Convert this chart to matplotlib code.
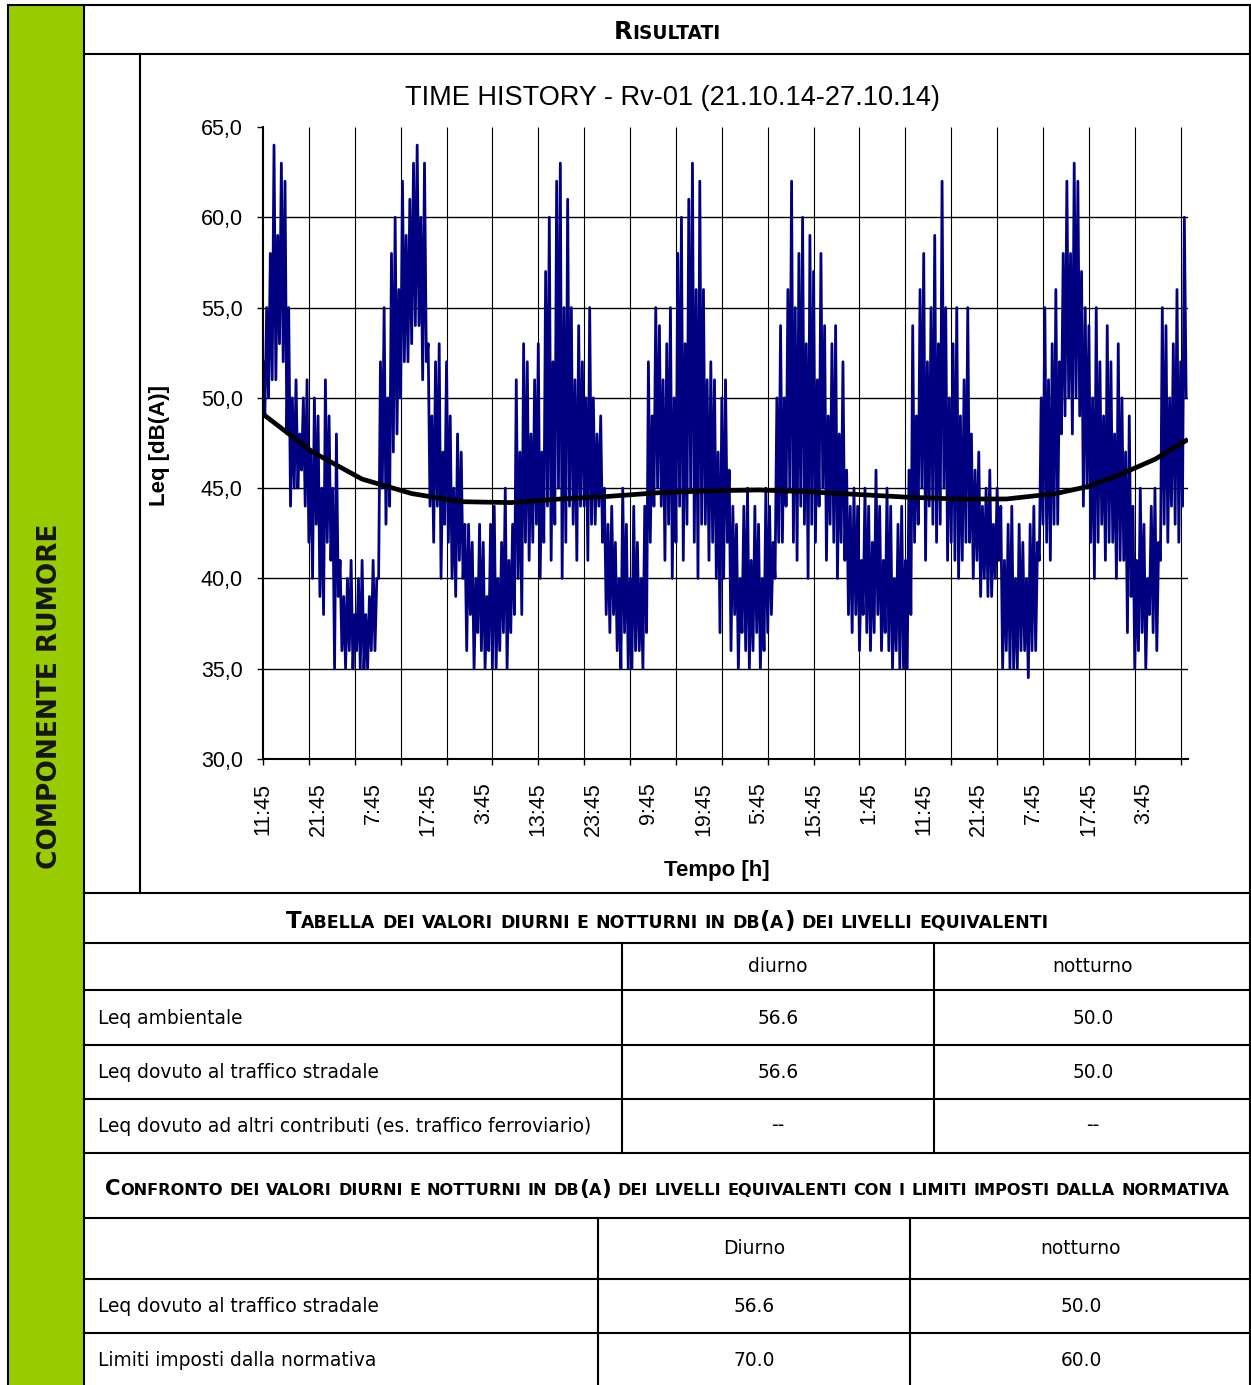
import numpy as np
import matplotlib
matplotlib.use('Agg')
import matplotlib.pyplot as plt
from matplotlib.lines import Line2D
from matplotlib.patches import Rectangle

plt.rcParams['font.family'] = ['Liberation Sans', 'DejaVu Sans']

# Leq readings, 20-minute samples starting at 11:45 on 21.10.14 (one list per day)
leq_day1 = [52, 49, 55, 50, 58, 51, 64, 51, 59, 53, 63, 52, 62, 48, 55, 44, 50, 45,
            51, 45, 48, 46, 50, 44, 51, 42, 47, 40, 50, 43, 49, 39, 45, 38, 51, 42,
            49, 41, 45, 35, 48, 39, 41, 36, 39, 35, 40, 36, 41, 35, 38, 36, 40, 35,
            41, 35, 38, 35, 39, 36, 41, 36, 40, 40, 52, 45, 55, 43, 50, 44, 58, 47]
leq_day2 = [60, 48, 56, 50, 62, 52, 59, 52, 61, 53, 63, 54, 64, 54, 60, 51, 63, 52,
            53, 44, 49, 42, 52, 44, 53, 40, 47, 43, 52, 42, 49, 40, 45, 39, 48, 41,
            47, 40, 43, 36, 43, 38, 42, 35, 40, 37, 43, 36, 42, 35, 39, 36, 43, 35,
            44, 35, 40, 36, 42, 37, 45, 35, 41, 37, 43, 38, 51, 40, 47, 38, 53, 42]
leq_day3 = [52, 41, 48, 42, 51, 43, 53, 40, 47, 42, 57, 44, 60, 41, 52, 43, 62, 45,
            63, 40, 55, 42, 61, 44, 55, 43, 51, 41, 54, 44, 52, 44, 50, 41, 55, 43,
            50, 43, 48, 44, 49, 42, 45, 38, 43, 37, 44, 38, 42, 36, 40, 35, 45, 37,
            43, 35, 40, 35, 44, 36, 42, 36, 40, 35, 44, 37, 52, 42, 49, 44, 55, 45]
leq_day4 = [54, 44, 51, 41, 53, 43, 55, 40, 50, 42, 58, 44, 60, 41, 53, 43, 61, 45,
            63, 42, 56, 40, 62, 43, 56, 43, 51, 41, 52, 42, 51, 40, 47, 37, 50, 40,
            51, 42, 46, 36, 44, 38, 43, 35, 40, 37, 44, 36, 45, 35, 41, 36, 44, 37,
            43, 35, 40, 36, 45, 37, 44, 38, 42, 40, 50, 42, 54, 42, 50, 44, 56, 45]
leq_day5 = [62, 42, 55, 41, 58, 44, 60, 43, 53, 40, 59, 43, 57, 42, 51, 44, 58, 45,
            54, 41, 49, 43, 53, 42, 54, 40, 48, 42, 52, 41, 46, 38, 44, 37, 45, 38,
            44, 36, 41, 38, 45, 37, 44, 36, 42, 37, 46, 38, 44, 36, 41, 37, 45, 36,
            44, 35, 40, 36, 43, 35, 44, 35, 41, 35, 46, 38, 54, 42, 49, 43, 56, 45]
leq_day6 = [58, 41, 52, 44, 55, 43, 59, 42, 53, 43, 62, 45, 55, 41, 50, 42, 53, 41,
            55, 40, 49, 41, 51, 42, 55, 42, 48, 40, 46, 41, 47, 39, 44, 40, 45, 39,
            46, 39, 43, 40, 45, 41, 44, 35, 41, 36, 43, 35, 44, 35, 40, 35, 43, 36,
            42, 36, 40, 34.5, 43, 36, 44, 36, 42, 41, 50, 43, 55, 42, 51, 41, 53, 43]
leq_day7 = [56, 43, 52, 48, 58, 49, 62, 50, 58, 48, 63, 50, 62, 49, 57, 44, 55, 45,
            54, 42, 50, 40, 55, 42, 52, 43, 49, 41, 54, 42, 52, 42, 48, 40, 53, 41,
            50, 41, 47, 37, 49, 39, 44, 35, 41, 36, 45, 37, 43, 35, 40, 38, 44, 37,
            45, 36, 42, 41, 55, 43, 54, 42, 50, 44, 53, 43, 56, 42, 52, 44, 60, 50]

# polynomial trend line
trend_hours = [0, 9, 18, 27, 36, 45, 54, 63, 72, 81, 90, 99, 108, 117, 126, 135, 144, 150, 156, 162, 168]
trend_leq = [49.1, 47.0, 45.5, 44.7, 44.25, 44.2, 44.4, 44.55, 44.75, 44.85, 44.9, 44.8, 44.65, 44.5,
             44.4, 44.4, 44.7, 45.1, 45.8, 46.6, 47.7]

time_labels = ['11:45', '21:45', '7:45', '17:45', '3:45', '13:45', '23:45', '9:45', '19:45',
               '5:45', '15:45', '1:45', '11:45', '21:45', '7:45', '17:45', '3:45']
y_ticks = [30, 35, 40, 45, 50, 55, 60, 65]

# tables
table1_cols = ['diurno', 'notturno']
table1_rows = ['Leq ambientale', 'Leq dovuto al traffico stradale',
               'Leq dovuto ad altri contributi (es. traffico ferroviario)']
table1_day = ['56.6', '56.6', '--']
table1_night = ['50.0', '50.0', '--']

table2_cols = ['Diurno', 'notturno']
table2_rows = ['Leq dovuto al traffico stradale', 'Limiti imposti dalla normativa']
table2_day = ['56.6', '70.0']
table2_night = ['50.0', '60.0']

W, H = 1251, 1385
fig = plt.figure(figsize=(W / 100, H / 100), dpi=100)
renderer = fig.canvas.get_renderer()


def fx(x):
    return x / W


def fy(y):
    return 1 - y / H


def hline(y, x0=84, x1=1251, lw=1.5):
    fig.add_artist(Line2D([fx(x0), fx(x1)], [fy(y), fy(y)], color='black', lw=lw))


def vline(x, y0, y1, lw=1.5):
    fig.add_artist(Line2D([fx(x), fx(x)], [fy(y0), fy(y1)], color='black', lw=lw))


def small_caps(s, cx, base_y, target_w, ratio=0.76):
    """Bold small-caps line, centred on cx and stretched to target_w pixels."""
    words = []
    for word in s.split(' '):
        runs = []
        for ch in word:
            big = not ch.islower()
            if runs and runs[-1][1] == big:
                runs[-1][0] += ch
            else:
                runs.append([ch, big])
        words.append([fig.text(0, fy(base_y), t.upper(), fontsize=10 if big else 10 * ratio,
                               fontweight='bold', family='DejaVu Sans', va='baseline', ha='left')
                      for t, big in runs])

    def widths():
        return [[a.get_window_extent(renderer).width for a in w] for w in words]

    sp = 0.3 * 10 * 100 / 72
    ws = widths()
    total = sum(sum(w) for w in ws) + sp * (len(words) - 1)
    k = target_w / total
    for w in words:
        for a in w:
            a.set_fontsize(a.get_fontsize() * k)
    ws = widths()
    sp *= k
    total = sum(sum(w) for w in ws) + sp * (len(words) - 1)
    x = cx - total / 2
    for w, wl in zip(words, ws):
        for a, aw in zip(w, wl):
            a.set_x(fx(x))
            x += aw
        x += sp


# frame and green side band
fig.add_artist(Rectangle((fx(8), 0), fx(84) - fx(8), fy(5), color='#99CC00', lw=0))
hline(5, 8, 1251)
vline(8, 5, 1385)
vline(84, 5, 1385)
vline(1250, 5, 1385)
fig.text(fx(50), fy(696), 'COMPONENTE RUMORE', rotation=90, ha='center', va='center',
         fontsize=19, fontweight='bold', family='DejaVu Sans', color='#151515')

# header rows
small_caps('Risultati', 667, 39, 106)
for y in [54, 893, 943, 990, 1045, 1099, 1153, 1218, 1279, 1333]:
    hline(y)
vline(140, 54, 893)
small_caps('Tabella dei valori diurni e notturni in db(a) dei livelli equivalenti', 667, 928, 759)
small_caps('Confronto dei valori diurni e notturni in db(a) dei livelli equivalenti '
           'con i limiti imposti dalla normativa', 667, 1195, 1121)

# table 1
for x in [622, 934]:
    vline(x, 943, 1153)
tk = dict(family='DejaVu Sans', fontsize=13.4, va='center')
fig.text(fx(778), fy(967), table1_cols[0], ha='center', **tk)
fig.text(fx(1093), fy(967), table1_cols[1], ha='center', **tk)
for i, (name, d, n) in enumerate(zip(table1_rows, table1_day, table1_night)):
    yc = [1018, 1072, 1126][i]
    fig.text(fx(98), fy(yc), name, ha='left', **tk)
    fig.text(fx(778), fy(yc), d, ha='center', **tk)
    fig.text(fx(1093), fy(yc), n, ha='center', **tk)

# table 2
for x in [598, 910]:
    vline(x, 1218, 1385)
fig.text(fx(754), fy(1249), table2_cols[0], ha='center', **tk)
fig.text(fx(1081), fy(1249), table2_cols[1], ha='center', **tk)
for i, (name, d, n) in enumerate(zip(table2_rows, table2_day, table2_night)):
    yc = [1306, 1360][i]
    fig.text(fx(98), fy(yc), name, ha='left', **tk)
    fig.text(fx(754), fy(yc), d, ha='center', **tk)
    fig.text(fx(1081), fy(yc), n, ha='center', **tk)

# time history chart
leq = leq_day1 + leq_day2 + leq_day3 + leq_day4 + leq_day5 + leq_day6 + leq_day7
hours = np.arange(len(leq)) / 3

ax = fig.add_axes([fx(263), fy(759), fx(1188) - fx(263), fy(127) - fy(759)])
ax.set_xlim(0, 168)
ax.set_ylim(30, 65)
grid_x = np.arange(1, 21) * 25 / 3
ax.vlines(grid_x, 30, 65, color='black', lw=0.8, zorder=1)
ax.hlines(y_ticks[1:-1], 0, 168, color='black', lw=1.0, zorder=1)
ax.plot(hours, leq, color='#000080', lw=2.0, zorder=2)
ax.plot(trend_hours, trend_leq, color='black', lw=3.4, zorder=3, solid_capstyle='butt')

for side in ['top', 'right']:
    ax.spines[side].set_visible(False)
for side in ['left', 'bottom']:
    ax.spines[side].set_linewidth(1.5)

ax.set_yticks(y_ticks)
ax.set_yticklabels([f'{v:.1f}'.replace('.', ',') for v in y_ticks])
ax.tick_params(axis='y', direction='out', length=4.5, width=1, pad=10, labelsize=15.5)

ax.xaxis.remove_overlapping_locs = False
ax.set_xticks(np.arange(0, 21) * 25 / 3)
ax.set_xticklabels([])
ax.tick_params(axis='x', which='major', direction='out', length=4.5, width=1)
ax.set_xticks(np.arange(len(time_labels)) * 10, time_labels, minor=True, rotation=90)
ax.tick_params(axis='x', which='minor', length=0, pad=17, labelsize=15.5)

fig.text(fx(672), fy(98), 'TIME HISTORY - Rv-01 (21.10.14-27.10.14)', ha='center', va='center',
         fontsize=19.5)
fig.text(fx(160), fy(445), 'Leq [dB(A)]', rotation=90, ha='center', va='center',
         fontsize=16, fontweight='bold')
fig.text(fx(717), fy(870), 'Tempo [h]', ha='center', va='center', fontsize=16, fontweight='bold')

fig.savefig('out.png', dpi=100)
